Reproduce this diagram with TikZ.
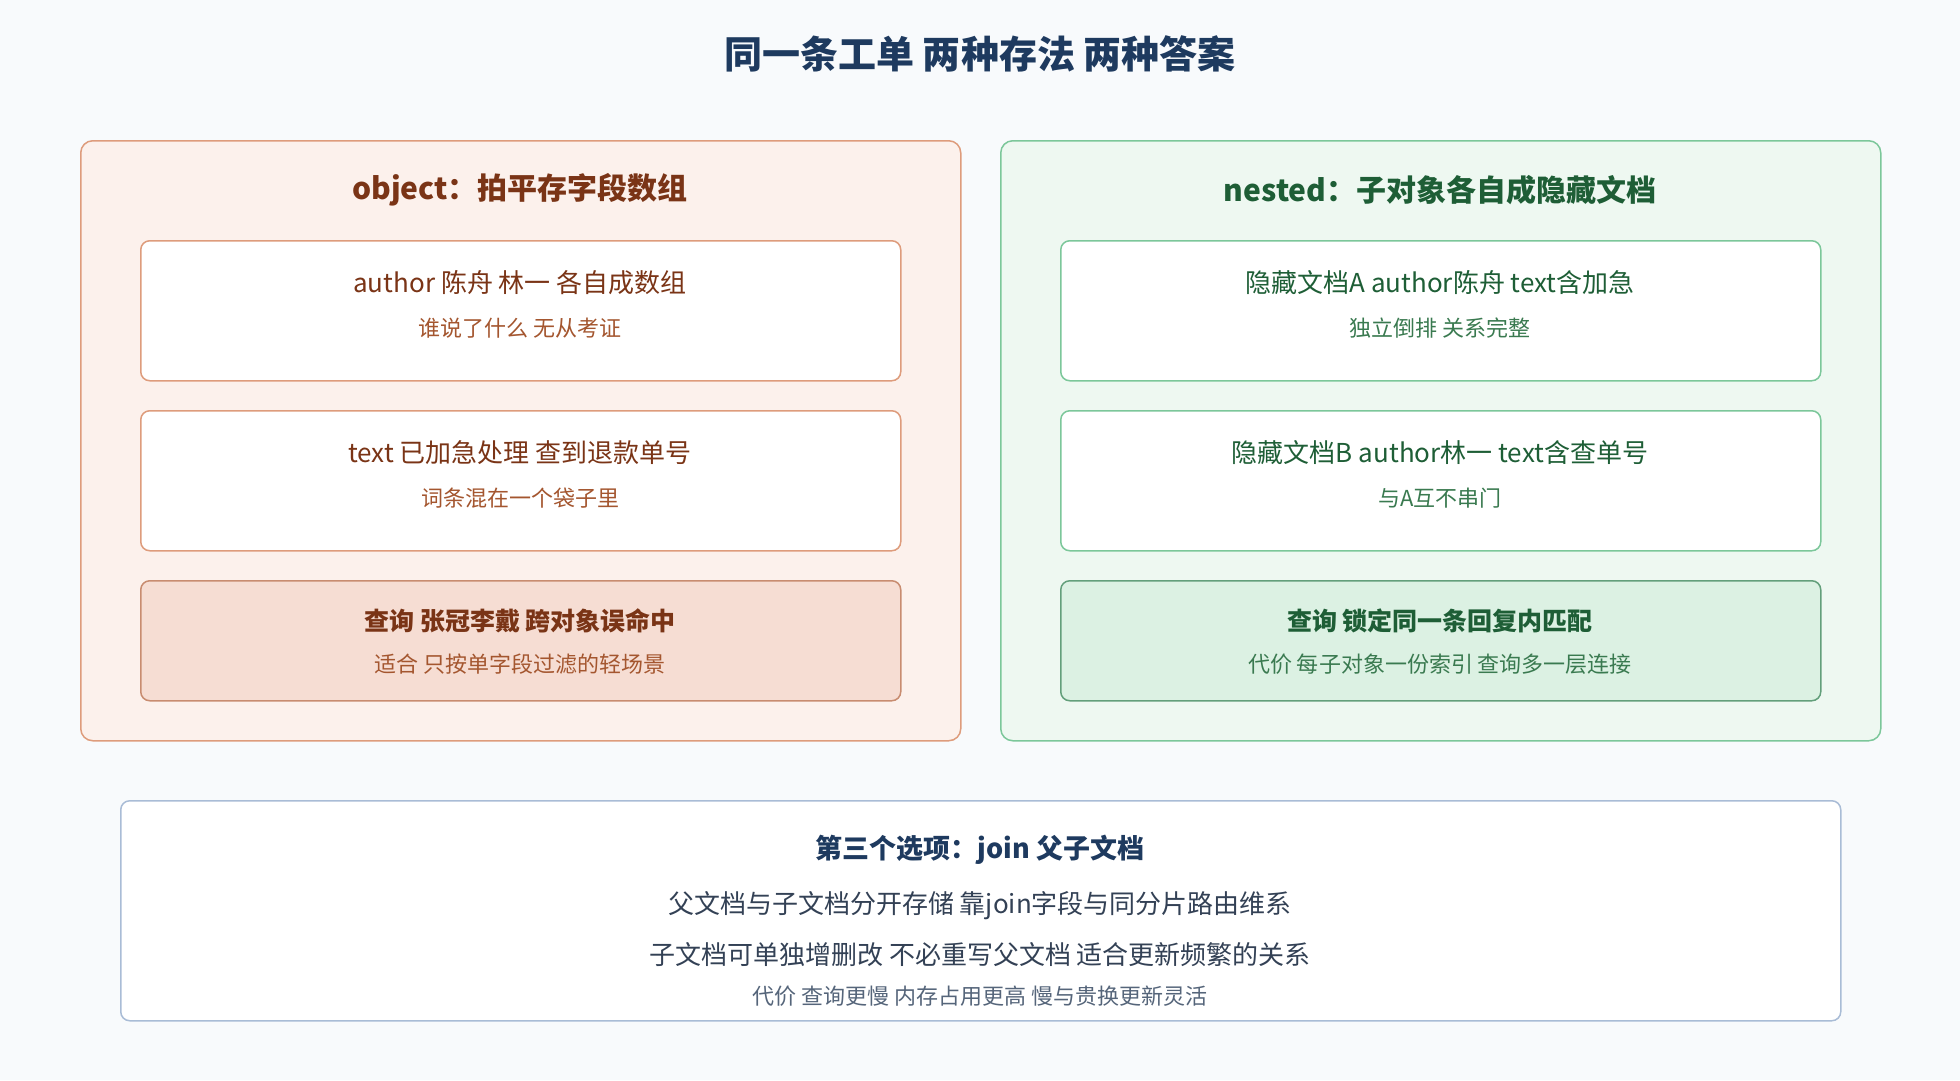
\documentclass[tikz,border=0pt]{standalone}
\usepackage{fontspec}
\setmainfont{Noto Sans CJK SC}
\usetikzlibrary{positioning}
\definecolor{bg}{HTML}{F8FAFC}
\definecolor{objfill}{HTML}{FCF1EC}
\definecolor{objline}{HTML}{DE9C7C}
\definecolor{objtext}{HTML}{7A3416}
\definecolor{objsub}{HTML}{A4562F}
\definecolor{objhit}{HTML}{F6DDD3}
\definecolor{nesfill}{HTML}{EEF8F1}
\definecolor{nesline}{HTML}{7CC79A}
\definecolor{nestext}{HTML}{1E5E36}
\definecolor{nessub}{HTML}{3A7A50}
\definecolor{neshit}{HTML}{DCF1E3}
\definecolor{joinline}{HTML}{A9BCD6}
\definecolor{jointext}{HTML}{1E3A5F}
\definecolor{joinbody}{HTML}{334155}
\definecolor{joinsub}{HTML}{55657A}

\begin{document}
\begin{tikzpicture}[x=1pt,y=-1pt]
\tikzstyle{panel} = [rectangle, rounded corners=12pt, line width=1.5pt,
minimum width=880pt, minimum height=600pt, anchor=north west]
\tikzstyle{card} = [rectangle, rounded corners=9pt, line width=1.5pt, fill=white,
minimum width=760pt, anchor=north west, align=center]
\tikzstyle{main} = [font=\fontsize{26}{34}\selectfont]
\tikzstyle{sub} = [font=\fontsize{22}{30}\selectfont]
\tikzstyle{head} = [font=\bfseries\fontsize{30}{36}\selectfont]
\fill[bg] (0,0) rectangle (1960,1080);
\useasboundingbox (0,0) rectangle (1960,1080);
\node[font=\bfseries\fontsize{38}{44}\selectfont, text=jointext] (title) at (980,54) {同一条工单 两种存法 两种答案};
% left panel
\node[panel, draw=objline, fill=objfill] (objpanel) at (80,140) {};
\node[head, text=objtext] (objhead) at (520,190) {object：拍平存字段数组};
\node[card, draw=objline, minimum height=140pt] (obja) at (140,240) {};
\node[main, text=objtext] at (520,283) {author 陈舟 林一 各自成数组};
\node[sub, text=objsub] at (520,328) {谁说了什么 无从考证};
\node[card, draw=objline, minimum height=140pt] (objb) at (140,410) {};
\node[main, text=objtext] at (520,453) {text 已加急处理 查到退款单号};
\node[sub, text=objsub] at (520,498) {词条混在一个袋子里};
\node[card, draw=objline!90!black, fill=objhit, minimum height=120pt] (objc) at (140,580) {};
\node[main, text=objtext, font=\bfseries\fontsize{25}{34}\selectfont] at (520,621) {查询 张冠李戴 跨对象误命中};
\node[sub, text=objsub] at (520,664) {适合 只按单字段过滤的轻场景};
% right panel
\node[panel, draw=nesline, fill=nesfill] (nespanel) at (1000,140) {};
\node[head, text=nestext] (neshead) at (1440,190) {nested：子对象各自成隐藏文档};
\node[card, draw=nesline, minimum height=140pt] (nesa) at (1060,240) {};
\node[main, text=nestext] at (1440,283) {隐藏文档A author陈舟 text含加急};
\node[sub, text=nessub] at (1440,328) {独立倒排 关系完整};
\node[card, draw=nesline, minimum height=140pt] (nesb) at (1060,410) {};
\node[main, text=nestext] at (1440,453) {隐藏文档B author林一 text含查单号};
\node[sub, text=nessub] at (1440,498) {与A互不串门};
\node[card, draw=nesline!80!black, fill=neshit, minimum height=120pt] (nesc) at (1060,580) {};
\node[main, text=nestext, font=\bfseries\fontsize{25}{34}\selectfont] at (1440,621) {查询 锁定同一条回复内匹配};
\node[sub, text=nessub] at (1440,664) {代价 每子对象一份索引 查询多一层连接};
% join box
\node[card, draw=joinline, minimum width=1720pt, minimum height=220pt] (join) at (120,800) {};
\node[head, text=jointext, font=\bfseries\fontsize{27}{34}\selectfont] at (980,850) {第三个选项：join 父子文档};
\node[main, text=joinbody] at (980,906) {父文档与子文档分开存储 靠join字段与同分片路由维系};
\node[main, text=joinbody] at (980,955) {子文档可单独增删改 不必重写父文档 适合更新频繁的关系};
\node[sub, text=joinsub] at (980,996) {代价 查询更慢 内存占用更高 慢与贵换更新灵活};
\end{tikzpicture}
\end{document}
